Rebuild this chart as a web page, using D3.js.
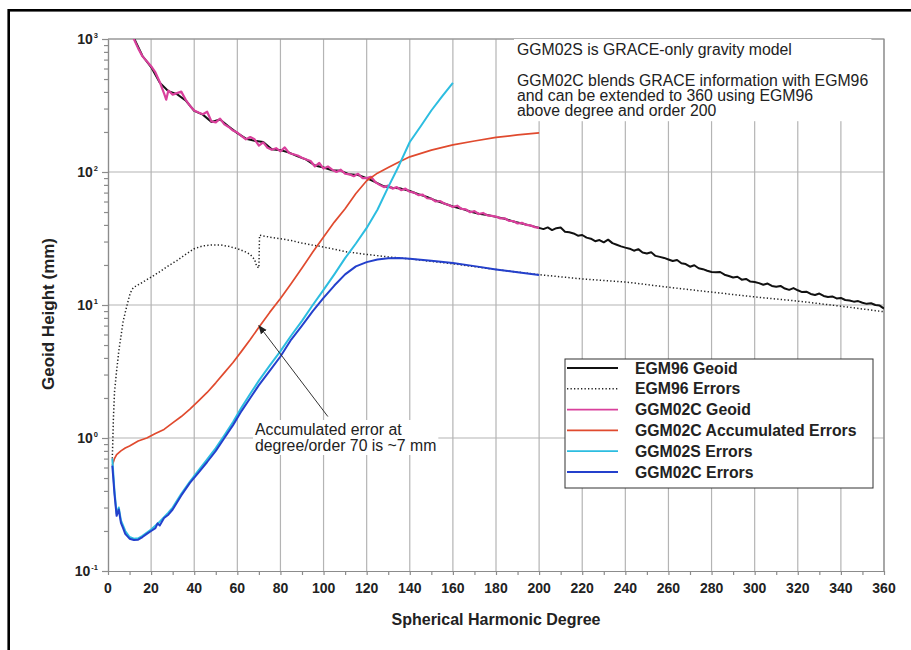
<!DOCTYPE html>
<html>
<head>
<meta charset="utf-8">
<script src="https://cdn.jsdelivr.net/npm/d3@7"></script>
<style>
body { margin: 0; background: #fff; }
svg { display: block; font-family: "Liberation Sans", Arial, Helvetica, sans-serif; }
</style>
</head>
<body>
<svg id="chart"></svg>
<script>
var svgWidth = 911;
var svgHeight = 650;

var margin = {top: 39, right: 27, bottom: 79, left: 108};
var width = svgWidth - margin.left - margin.right;
var height = svgHeight - margin.top - margin.bottom;

// [degree, geoid height in mm]
var egm96Geoid = [[8,2100],[12,1020],[16,745],[20,615],[24,470],[28,405],[32,385],[36,345],[40,288],[44,270],
  [48,238],[52,248],[56,220],[60,196],[64,178],[68,172],[72,168],[76,148],[80,146],[84,140],[88,131],[92,124],
  [96,112],[100,108],[104,103],[108,102],[112,96],[116,95],[120,90],[124,84],[128,78],[132,76],[136,75],[140,72],
  [144,68],[148,65],[152,61],[156,58],[160,55],[164,53],[168,50.5],[172,48.5],[176,47.5],[180,46],[184,44.5],
  [188,42.5],[192,41],[196,39.5],[200,38],[202,37.2],[204,38.3],[206,36.6],[208,37.8],[210,38.2],[212,35.6],
  [214,35.2],[216,34.5],[218,33.2],[220,33.6],[222,32.1],[224,31.5],[226,30.2],[228,30.8],[230,29.6],[232,31.0],
  [234,29.2],[236,28.4],[238,27.6],[240,27.0],[242,26.5],[244,25.6],[246,26.3],[248,24.8],[250,24.4],[252,24.9],
  [254,23.4],[256,23.0],[258,22.6],[260,22.0],[262,21.4],[264,21.8],[266,20.6],[268,20.3],[270,19.4],[272,19.9],
  [274,18.9],[276,18.6],[278,18.1],[280,17.7],[282,17.6],[284,17.7],[286,16.9],[288,16.5],[290,16.1],[292,16.3],
  [294,15.5],[296,15.7],[298,15.0],[300,14.9],[302,14.6],[304,14.2],[306,14.5],[308,13.9],[310,13.7],[312,13.9],
  [314,13.3],[316,13.0],[318,13.4],[320,12.9],[322,12.5],[324,12.6],[326,12.1],[328,11.9],[330,12.2],[332,11.7],
  [334,11.5],[336,11.6],[338,11.2],[340,11.3],[342,10.9],[344,10.8],[346,10.6],[348,10.7],[350,10.4],[352,10.2],
  [354,10.3],[356,10.0],[358,9.9],[360,9.4]];

var egm96Errors = [[2,0.7],[2.5,1.4],[3,2.2],[4,3.2],[5,4.5],[6,5.8],[7,7.5],[8,8.8],[9,10.2],[10,11.8],[11,13],
  [12,13.6],[14,14.2],[16,14.8],[18,15.5],[20,16.2],[24,17.8],[28,19.7],[32,21.6],[36,24],[40,26.5],[44,27.8],
  [48,28.3],[52,28.3],[56,27.6],[60,26.5],[64,25],[66,24],[68,22],[69,19.5],[70,19],[70.3,33.5],[72,33],[76,32.2],
  [80,31.5],[85,30.5],[90,29.2],[95,28.2],[100,27.3],[110,25.2],[120,24],[130,23],[140,22.2],[160,20.4],[180,18.5],
  [200,16.9],[220,15.7],[240,14.9],[260,13.6],[280,12.5],[300,11.5],[320,10.7],[340,9.8],[360,8.9]];

var ggm02cGeoid = [[6,3000],[8,2000],[10,1350],[12,1000],[14,850],[16,740],[18,680],[20,625],[22,560],[24,475],
  [26,390],[27,350],[28,410],[30,382],[32,392],[34,402],[36,350],[38,315],[40,290],[42,280],[44,272],[46,284],
  [48,240],[50,236],[52,252],[54,228],[56,218],[58,205],[60,198],[62,186],[64,176],[66,183],[68,176],[70,158],
  [72,167],[74,152],[76,147],[78,151],[80,143],[82,153],[84,139],[86,136],[88,133],[90,128],[92,124],[94,121],
  [96,110],[98,117],[100,106],[102,110],[104,104],[106,100],[108,104],[110,97],[112,96],[114,93],[116,97],
  [118,90],[120,90],[122,92],[124,84],[126,80],[128,77],[130,79],[132,75],[134,77],[136,73],[138,75],[140,71],
  [142,70],[144,67],[146,67.5],[148,63.5],[150,63],[152,60],[154,60.5],[156,58],[158,56.5],[160,54.6],[162,55.8],
  [164,52.8],[166,52.4],[168,49.8],[170,50.8],[172,48.3],[174,49.2],[176,47.2],[178,46.8],[180,46.2],[182,44.8],
  [184,44.9],[186,42.9],[188,42.8],[190,41],[192,41.5],[194,40],[196,39.7],[198,38.5],[200,38]];

var ggm02cAccum = [[2,0.62],[3,0.7],[4,0.75],[6,0.8],[8,0.84],[10,0.87],[14,0.95],[18,1.0],[22,1.08],[26,1.16],
  [30,1.3],[34,1.45],[38,1.65],[42,1.9],[46,2.2],[50,2.6],[54,3.1],[58,3.7],[62,4.5],[66,5.5],[70,6.8],[75,8.8],
  [80,11.2],[85,14.5],[90,19],[95,25],[100,32.5],[105,42],[110,53],[115,69],[120,86],[125,98],[130,108],[135,119],
  [140,130],[150,146],[160,160],[170,171],[180,182],[190,190],[200,197]];

var ggm02sErrors = [[2,0.7],[3,0.4],[4,0.27],[5,0.3],[6,0.24],[8,0.2],[10,0.18],[12,0.175],[14,0.176],[16,0.184],
  [20,0.205],[24,0.235],[28,0.275],[30,0.3],[34,0.38],[38,0.47],[42,0.57],[46,0.69],[50,0.84],[54,1.05],[58,1.32],
  [62,1.7],[66,2.15],[70,2.7],[75,3.5],[80,4.5],[85,5.9],[90,7.6],[95,10.0],[100,13.0],[105,17.0],[110,22.5],
  [115,29],[120,38],[125,52],[130,77],[135,112],[140,168],[145,220],[150,290],[155,370],[160,468]];

var ggm02cErrors = [[2,0.62],[3,0.38],[4,0.26],[5,0.29],[6,0.23],[7,0.21],[8,0.19],[10,0.175],[12,0.171],[14,0.172],
  [16,0.18],[18,0.19],[20,0.2],[22,0.21],[23,0.228],[24,0.22],[26,0.25],[28,0.265],[30,0.29],[34,0.37],[38,0.46],
  [42,0.55],[46,0.66],[50,0.8],[54,1.0],[58,1.25],[62,1.6],[66,2.0],[70,2.5],[75,3.2],[80,4.1],[85,5.5],[90,7.0],
  [95,9.0],[100,11.3],[105,14.0],[110,17.0],[115,19.5],[120,21.0],[125,22.0],[130,22.5],[135,22.6],[140,22.3],
  [150,21.5],[160,20.7],[170,19.6],[180,18.5],[190,17.6],[200,16.8]];

var legendLabels = ["EGM96 Geoid", "EGM96 Errors", "GGM02C Geoid", "GGM02C Accumulated Errors", "GGM02S Errors", "GGM02C Errors"];
var xTicks = d3.range(0, 361, 20);
var xMinorTicks = d3.range(0, 361, 10);
var yDecades = [0.1, 1, 10, 100, 1000];
var yExponents = ["-1", "0", "1", "2", "3"];
var noteLines = ["GGM02S is GRACE-only gravity model", "", "GGM02C blends GRACE information with EGM96",
  "and can be extended to 360 using EGM96", "above degree and order 200"];
var arrowNote = ["Accumulated error at", "degree/order 70 is ~7 mm"];
var arrowFrom = [102, 1.45];
var arrowTo = [70, 7];

var series = [
  {data: egm96Geoid, color: "#111", width: 2, dash: null},
  {data: egm96Errors, color: "#222", width: 1.5, dash: "1.3,2.2"},
  {data: ggm02cGeoid, color: "#d9409c", width: 2.2, dash: null},
  {data: ggm02cAccum, color: "#e04a2e", width: 1.7, dash: null},
  {data: ggm02sErrors, color: "#2cbde0", width: 2, dash: null},
  {data: ggm02cErrors, color: "#2440cc", width: 2, dash: null}
];

var svg = d3.select("#chart")
  .attr("width", svgWidth)
  .attr("height", svgHeight);

// outer black frame
svg.append("rect")
  .attr("x", 8.7).attr("y", 10.3)
  .attr("width", 1000).attr("height", 1000)
  .attr("fill", "#fff")
  .attr("stroke", "#000")
  .attr("stroke-width", 2.6);

var chartGroup = svg.append("g")
  .attr("transform", `translate(${margin.left}, ${margin.top})`);

var x = d3.scaleLinear().domain([0, 360]).range([0, width]);
var y = d3.scaleLog().domain([0.1, 1000]).range([height, 0]);

// grid
chartGroup.append("g").selectAll("line")
  .data(xTicks.slice(1))
  .enter().append("line")
  .attr("x1", d => x(d)).attr("x2", d => x(d))
  .attr("y1", 0).attr("y2", height)
  .attr("stroke", "#b4b4b4").attr("stroke-width", 1.2);

chartGroup.append("g").selectAll("line")
  .data(yDecades.slice(1))
  .enter().append("line")
  .attr("x1", 0).attr("x2", width)
  .attr("y1", d => y(d)).attr("y2", d => y(d))
  .attr("stroke", "#b4b4b4").attr("stroke-width", 1.2);

// axes
var minorY = [];
yDecades.slice(0, 4).forEach(function(d) {
  for (var k = 2; k <= 9; k++) minorY.push(d * k);
});

var yAxisG = chartGroup.append("g")
  .call(d3.axisLeft(y).tickValues(minorY).tickSize(4).tickSizeOuter(0).tickFormat(""));
yAxisG.append("g")
  .call(d3.axisLeft(y).tickValues(yDecades).tickSize(6).tickSizeOuter(0).tickFormat(""));
yAxisG.selectAll("path, line").attr("stroke", "#8c8c8c").attr("stroke-width", 1.2);

var xAxisG = chartGroup.append("g")
  .attr("transform", `translate(0, ${height})`)
  .call(d3.axisBottom(x).tickValues(xMinorTicks).tickSize(4).tickSizeOuter(0).tickFormat(""));
xAxisG.selectAll("path, line").attr("stroke", "#8c8c8c").attr("stroke-width", 1.2);

chartGroup.append("g").selectAll("text")
  .data(xTicks)
  .enter().append("text")
  .attr("x", d => x(d))
  .attr("y", height + 22)
  .attr("text-anchor", "middle")
  .attr("font-size", 14)
  .attr("font-weight", "bold")
  .attr("fill", "#222")
  .text(d => d);

var yLabels = chartGroup.append("g").selectAll("text")
  .data(yDecades)
  .enter().append("text")
  .attr("x", -10)
  .attr("y", d => y(d) + 5)
  .attr("text-anchor", "end")
  .attr("font-size", 14)
  .attr("font-weight", "bold")
  .attr("fill", "#222");
yLabels.append("tspan").text("10");
yLabels.append("tspan")
  .attr("font-size", 7.5)
  .attr("dy", -6)
  .attr("dx", 1)
  .text((d, i) => yExponents[i]);

// plot frame top / right
chartGroup.append("path")
  .attr("d", `M0,0H${width}V${height}`)
  .attr("fill", "none")
  .attr("stroke", "#8c8c8c")
  .attr("stroke-width", 1.2);

// axis titles
svg.append("text")
  .attr("x", margin.left + width / 2)
  .attr("y", 625)
  .attr("text-anchor", "middle")
  .attr("font-size", 16)
  .attr("font-weight", "bold")
  .attr("fill", "#222")
  .text("Spherical Harmonic Degree");

svg.append("text")
  .attr("transform", "translate(54, 314) rotate(-90)")
  .attr("text-anchor", "middle")
  .attr("font-size", 17)
  .attr("font-weight", "bold")
  .attr("fill", "#222")
  .text("Geoid Height (mm)");

// curves
svg.append("clipPath").attr("id", "plotClip")
  .append("rect").attr("width", width).attr("height", height);

var drawLine = d3.line()
  .x(d => x(d[0]))
  .y(d => y(d[1]));

var curves = chartGroup.append("g").attr("clip-path", "url(#plotClip)");
series.forEach(function(s) {
  curves.append("path")
    .attr("d", drawLine(s.data))
    .attr("fill", "none")
    .attr("stroke", s.color)
    .attr("stroke-width", s.width)
    .attr("stroke-dasharray", s.dash)
    .attr("stroke-linejoin", "round");
});

// top-right note
var noteG = chartGroup.append("g");
var noteBg = noteG.append("rect").attr("fill", "#fff");
var noteText = noteG.append("text")
  .attr("font-size", 15.8)
  .attr("fill", "#222");
noteText.selectAll("tspan")
  .data(noteLines)
  .enter().append("tspan")
  .attr("x", 409)
  .attr("y", (d, i) => 16 + i * 15.3)
  .text(d => d);
var nb = noteText.node().getBBox();
noteBg.attr("x", nb.x - 3).attr("y", nb.y - 2).attr("width", nb.width + 6).attr("height", nb.height + 4);

// arrow annotation
svg.append("defs").append("marker")
  .attr("id", "arrowHead")
  .attr("viewBox", "0 0 10 10")
  .attr("refX", 9).attr("refY", 5)
  .attr("markerWidth", 9).attr("markerHeight", 9)
  .attr("markerUnits", "userSpaceOnUse")
  .attr("orient", "auto")
  .append("path").attr("d", "M0,1L10,5L0,9Z").attr("fill", "#222");

chartGroup.append("line")
  .attr("x1", x(arrowFrom[0])).attr("y1", y(arrowFrom[1]))
  .attr("x2", x(arrowTo[0])).attr("y2", y(arrowTo[1]))
  .attr("stroke", "#333").attr("stroke-width", 1)
  .attr("marker-end", "url(#arrowHead)");

var arrowG = chartGroup.append("g");
var arrowBg = arrowG.append("rect").attr("fill", "#fff");
var arrowText = arrowG.append("text")
  .attr("font-size", 15.8)
  .attr("fill", "#222");
arrowText.selectAll("tspan")
  .data(arrowNote)
  .enter().append("tspan")
  .attr("x", 147)
  .attr("y", (d, i) => 396 + i * 16)
  .text(d => d);
var ab = arrowText.node().getBBox();
arrowBg.attr("x", ab.x - 2).attr("y", ab.y - 1).attr("width", ab.width + 4).attr("height", ab.height + 2);

// legend
var legend = svg.append("g").attr("transform", "translate(565, 359)");
legend.append("rect")
  .attr("width", 308).attr("height", 129)
  .attr("fill", "#fff")
  .attr("stroke", "#333").attr("stroke-width", 1);

var legendRows = legend.selectAll(".row")
  .data(legendLabels)
  .enter().append("g")
  .attr("transform", (d, i) => `translate(0, ${9 + i * 20.8})`);

legendRows.append("line")
  .attr("x1", 2).attr("x2", 53)
  .attr("stroke", (d, i) => series[i].color)
  .attr("stroke-width", (d, i) => series[i].dash ? 1.4 : 1.8)
  .attr("stroke-dasharray", (d, i) => series[i].dash);

legendRows.append("text")
  .attr("x", 70)
  .attr("y", 5.5)
  .attr("font-size", 15.8)
  .attr("font-weight", "bold")
  .attr("fill", "#222")
  .text(d => d);
</script>
</body>
</html>
